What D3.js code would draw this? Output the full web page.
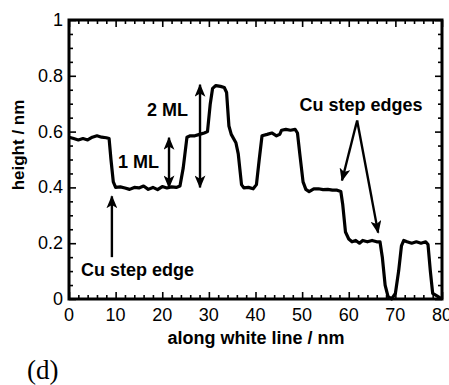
<!DOCTYPE html>
<html>
<head>
<meta charset="utf-8">
<script src="https://cdn.jsdelivr.net/npm/d3@7"></script>
<style>
  body { margin: 0; background: #fff; }
  text { font-family: "Liberation Sans", Arial, sans-serif; }
</style>
</head>
<body>
<script>
// profile along the white line (nm), height in nm
const positions = [0, 1, 2, 3, 4, 5, 6, 7, 8, 8.6, 9.0, 9.5, 10, 11, 12, 13, 14, 15, 16, 17, 18, 19, 20, 21, 22, 23, 23.8,
  24.5, 25.3, 26, 27, 28, 29, 29.7, 30.3, 30.8, 31.5, 32.5, 33.3, 33.8, 34.3, 34.8, 35.8, 36.3, 37.0, 37.5, 38.5, 39.5,
  40.2, 40.8, 41.4, 42.5, 43.5, 44.5, 45.2, 45.6, 46.5, 47.5, 48.5, 49.0, 49.5, 50.2, 50.8, 51.5, 52.5, 53.5, 54.5,
  55.5, 56.5, 57.5, 58.3, 58.7, 59.3, 60.0, 60.7, 61.5, 62.3, 63, 64, 65, 66, 66.7, 67.2, 67.8, 68.4, 69.2, 70, 70.7,
  71.3, 71.8, 72.5, 73.5, 74.5, 75.5, 76.5, 77.0, 77.5, 78.0, 79, 80];
const heights = [0.58, 0.575, 0.57, 0.575, 0.57, 0.58, 0.585, 0.58, 0.578, 0.575, 0.50, 0.42, 0.40, 0.402, 0.398, 0.393,
  0.40, 0.398, 0.405, 0.393, 0.40, 0.392, 0.403, 0.398, 0.402, 0.40, 0.405,
  0.47, 0.58, 0.585, 0.585, 0.59, 0.595, 0.60, 0.70, 0.755, 0.765, 0.762, 0.758, 0.74, 0.62, 0.59, 0.56, 0.52, 0.41,
  0.398, 0.40, 0.395, 0.41, 0.50, 0.585, 0.59, 0.595, 0.585, 0.59, 0.605, 0.608, 0.605, 0.608, 0.595, 0.52, 0.42,
  0.393, 0.385, 0.395, 0.395, 0.392, 0.393, 0.39, 0.39, 0.385, 0.34, 0.24, 0.215, 0.205, 0.21, 0.20, 0.21, 0.205,
  0.21, 0.205, 0.205, 0.15, 0.05, 0.01, 0.0, 0.02, 0.10, 0.19, 0.21, 0.205, 0.20, 0.205, 0.20, 0.205, 0.195, 0.10,
  0.02, 0.01, 0.0];

const xTicks = [0, 10, 20, 30, 40, 50, 60, 70, 80];
const yTicks = [0, 0.2, 0.4, 0.6, 0.8, 1];

const W = 449, H = 385;
const m = { left: 69, right: 442, top: 20, bottom: 299 };

const svg = d3.select("body").append("svg")
  .attr("width", W).attr("height", H);

const x = d3.scaleLinear().domain([0, 80]).range([m.left, m.right]);
const y = d3.scaleLinear().domain([0, 1]).range([m.bottom, m.top]);

svg.append("defs").append("marker")
  .attr("id", "head")
  .attr("viewBox", "0 0 12 10")
  .attr("refX", 11).attr("refY", 5)
  .attr("markerUnits", "userSpaceOnUse")
  .attr("markerWidth", 13).attr("markerHeight", 11)
  .attr("orient", "auto-start-reverse")
  .append("path")
  .attr("d", "M0,0 L12,5 L0,10 L3,5 Z")
  .attr("fill", "#000");

// ticks, all inward, mirrored on top and right
const xMinor = d3.range(0, 81, 2).filter(v => v % 10 !== 0);
const yMinor = d3.range(0, 21).map(i => i * 0.05).filter((v, i) => i % 4 !== 0);

function tickAxis(axis, len) {
  return axis.tickSizeInner(len).tickSizeOuter(0).tickFormat("");
}
const gx = [
  [d3.axisTop(x).tickValues(xTicks), 7, m.bottom], [d3.axisTop(x).tickValues(xMinor), 4, m.bottom],
  [d3.axisBottom(x).tickValues(xTicks), 7, m.top], [d3.axisBottom(x).tickValues(xMinor), 4, m.top]
];
gx.forEach(([a, len, pos]) => {
  svg.append("g").attr("transform", `translate(0,${pos})`).call(tickAxis(a, len))
    .call(g => g.select(".domain").remove());
});
const gy = [
  [d3.axisRight(y).tickValues(yTicks), 7, m.left], [d3.axisRight(y).tickValues(yMinor), 4, m.left],
  [d3.axisLeft(y).tickValues(yTicks), 7, m.right], [d3.axisLeft(y).tickValues(yMinor), 4, m.right]
];
gy.forEach(([a, len, pos]) => {
  svg.append("g").attr("transform", `translate(${pos},0)`).call(tickAxis(a, len))
    .call(g => g.select(".domain").remove());
});
svg.selectAll(".tick line").attr("stroke", "#000").attr("stroke-width", 1.6);

// tick labels
svg.append("g").selectAll("text").data(xTicks).enter().append("text")
  .attr("x", d => x(d)).attr("y", m.bottom + 22)
  .attr("text-anchor", "middle").attr("font-size", 18)
  .text(d => d);
svg.append("g").selectAll("text").data(yTicks).enter().append("text")
  .attr("x", m.left - 6).attr("y", d => y(d) + 6)
  .attr("text-anchor", "end").attr("font-size", 18)
  .text(d => d);

// the profile
svg.append("path")
  .datum(positions.map((p, i) => [p, heights[i]]))
  .attr("fill", "none").attr("stroke", "#000").attr("stroke-width", 3.2)
  .attr("stroke-linejoin", "round")
  .attr("d", d3.line().x(d => x(d[0])).y(d => y(d[1])));

// frame
svg.append("rect")
  .attr("x", m.left).attr("y", m.top)
  .attr("width", m.right - m.left).attr("height", m.bottom - m.top)
  .attr("fill", "none").attr("stroke", "#000").attr("stroke-width", 3);

// axis titles
svg.append("text")
  .attr("x", 256).attr("y", m.bottom + 45)
  .attr("text-anchor", "middle").attr("font-size", 18).attr("font-weight", "bold")
  .text("along white line / nm");
svg.append("text")
  .attr("transform", "translate(24,145) rotate(-90)")
  .attr("text-anchor", "middle").attr("font-size", 17).attr("font-weight", "bold")
  .text("height / nm");

// annotations
function arrow(x1, y1, x2, y2, both) {
  const l = svg.append("line")
    .attr("x1", x(x1)).attr("y1", y(y1)).attr("x2", x(x2)).attr("y2", y(y2))
    .attr("stroke", "#000").attr("stroke-width", 2.4)
    .attr("marker-end", "url(#head)");
  if (both) l.attr("marker-start", "url(#head)");
}
arrow(28.1, 0.40, 28.1, 0.768, true);
arrow(21.45, 0.40, 21.45, 0.578, true);
arrow(9.2, 0.15, 9.2, 0.368, false);
arrow(61.8, 0.64, 58.55, 0.425, false);
arrow(61.8, 0.64, 66.3, 0.238, false);

function label(px, py, anchor, txt) {
  svg.append("text").attr("x", px).attr("y", py)
    .attr("text-anchor", anchor).attr("font-size", 18).attr("font-weight", "bold")
    .text(txt);
}
label(188, 116, "end", "2 ML");
label(159, 168, "end", "1 ML");
label(81, 276, "start", "Cu step edge");
label(361, 111, "middle", "Cu step edges");

svg.append("text")
  .attr("x", 27).attr("y", 379)
  .style("font-family", "'Liberation Serif', 'DejaVu Serif', serif")
  .attr("font-size", 27)
  .text("(d)");
</script>
</body>
</html>
